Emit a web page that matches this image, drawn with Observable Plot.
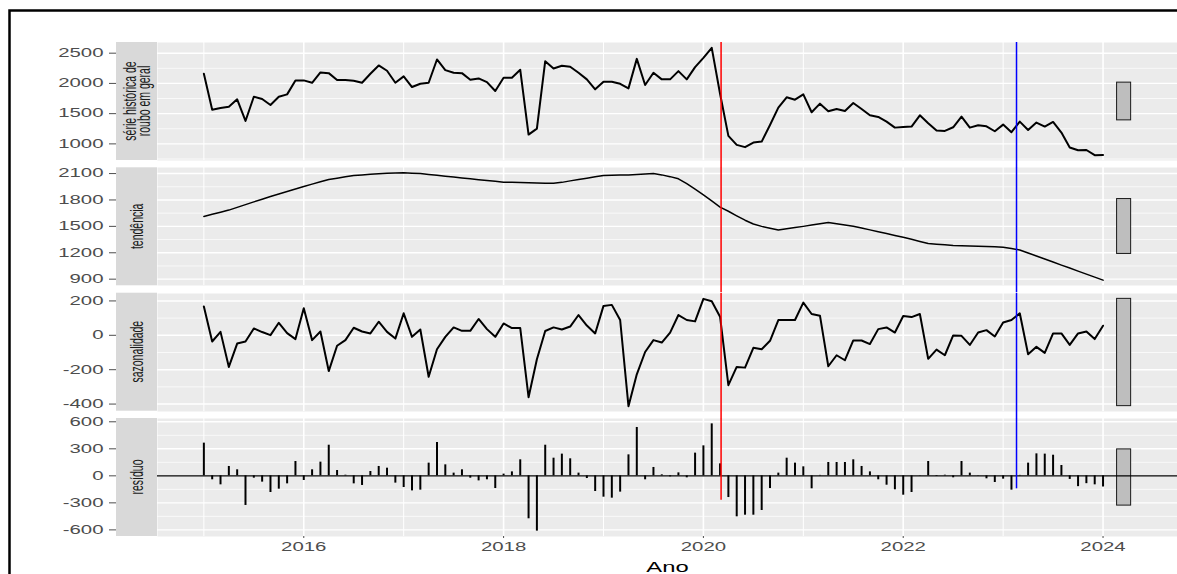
<!DOCTYPE html>
<html>
<head>
<meta charset="utf-8">
<script src="https://cdn.jsdelivr.net/npm/d3@7"></script>
<script src="https://cdn.jsdelivr.net/npm/@observablehq/plot@0.6"></script>
<style>
  body { margin: 0; background: #fff; }
  #chart { position: relative; width: 1177px; height: 574px; overflow: hidden; background: #fff;
           font-family: "Liberation Sans", Arial, sans-serif; }
  #chart svg { position: absolute; left: 0; overflow: visible; }
</style>
</head>
<body>
<div id="chart"></div>
<script>
// ---------------- data (monthly, Jan 2015 .. Jan 2024) ----------------
const startYear = 2015;
const observed = [
  2159, 1566, 1594, 1615, 1737, 1379, 1780, 1742, 1643, 1780, 1819, 2050,
  2050, 2011, 2182, 2170, 2055, 2055, 2044, 2011, 2159, 2297, 2209, 2011,
  2116, 1940, 1994, 2011, 2396, 2220, 2176, 2170, 2061, 2083, 2022, 1874,
  2094, 2094, 2225, 1154, 1253, 2368, 2248, 2291, 2275, 2176, 2067, 1902,
  2028, 2028, 1994, 1918, 2406, 1973, 2176, 2067, 2067, 2203, 2067, 2269,
  2423, 2588, 1830, 1132, 984, 946, 1022, 1038, 1313, 1599, 1770, 1731,
  1819, 1523, 1665, 1539, 1577, 1544, 1676, 1577, 1473, 1445, 1368, 1269,
  1280, 1286, 1473, 1341, 1220, 1214, 1275, 1450, 1269, 1308, 1291, 1209,
  1319, 1193, 1368, 1231, 1352, 1286, 1363, 1187, 940, 896, 899, 814,
  815
];
const trend = [
  1613, 1637, 1661, 1685, 1716, 1747, 1778, 1809, 1840, 1868, 1896, 1924,
  1952, 1980, 2006, 2032, 2048, 2063, 2077, 2085, 2092, 2098, 2103, 2106,
  2108, 2105, 2100, 2090, 2080, 2070, 2060, 2051, 2041, 2031, 2021, 2012,
  2002, 2000, 1998, 1996, 1993, 1991, 1990, 2000, 2017, 2033, 2048, 2063,
  2077, 2080, 2083, 2085, 2090, 2095, 2100, 2085, 2065, 2040, 1985, 1922,
  1858, 1790, 1719, 1672, 1620, 1570, 1527, 1500, 1478, 1458, 1472, 1486,
  1500, 1515, 1529, 1543, 1530, 1516, 1502, 1481, 1460, 1439, 1418, 1397,
  1377, 1353, 1329, 1305, 1298, 1290, 1283, 1280, 1278, 1275, 1271, 1268,
  1264, 1248, 1232, 1198, 1163, 1129, 1095, 1060, 1026, 991, 957, 923,
  889
];
const seasonal = [
  168, -36, 20, -184, -48, -36, 40, 19, 1, 73, 13, -22,
  157, -28, 22, -208, -61, -28, 44, 22, 11, 79, 20, -19,
  128, -9, 34, -241, -81, -9, 46, 26, 26, 95, 36, -9,
  69, 42, 42, -360, -139, 25, 46, 34, 51, 118, 57, 11,
  171, 177, 89, -412, -227, -97, -28, -42, 16, 118, 89, 81,
  212, 198, 108, -290, -184, -188, -73, -81, -32, 89, 89, 89,
  190, 124, 114, -180, -116, -145, -30, -30, -51, 36, 46, 16,
  112, 106, 124, -137, -83, -116, -1, -3, -56, 16, 30, -7,
  75, 89, 128, -110, -67, -102, 11, 11, -56, 11, 22, -22,
  56
];
const remainder = [
  363, -44, -100, 104, 67, -329, -26, -70, -185, -148, -89, 159,
  -52, 67, 152, 340, 59, 7, -89, -107, 48, 104, 85, -81,
  -130, -167, -159, 141, 370, 122, 30, 67, -26, -56, -44, -141,
  19, 44, 178, -477, -614, 340, 196, 241, 189, 30, -30, -174,
  -237, -248, -181, 233, 537, -44, 93, 11, -11, 33, -22, 252,
  333, 577, 133, -241, -455, -437, -437, -385, -141, 30, 196, 141,
  100, -144, 5, 148, 148, 148, 178, 104, 44, -44, -104, -155,
  -215, -185, 3, 159, -7, 7, -22, 159, 30, 3, -33, -74,
  -37, -159, 5, 141, 244, 241, 229, 115, -40, -120, -87, -100,
  -124
];

const panelLabels = [["série histórica de", "roubo em geral"], ["tendência"], ["sazonalidade"], ["resíduo"]];
const yTicks = [[1000, 1500, 2000, 2500], [900, 1200, 1500, 1800, 2100], [-400, -200, 0, 200], [-600, -300, 0, 300, 600]];
const yMinor = [[750, 1250, 1750, 2250], [1050, 1350, 1650, 1950], [-300, -100, 100], [-450, -150, 150, 450]];
const xTicks = [2016, 2018, 2020, 2022, 2024];
const xMinor = [2015, 2017, 2019, 2021, 2023];
const xLabel = "Ano";
const vlines = [{x: 2020.177, color: "red", end: -271}, {x: 2023.134, color: "blue", end: -144}];

// ---------------- layout ----------------
const W = 1177, panelLeft = 157, panelH = 118;
const tops = [42, 167.3, 292.7, 418];
const gap = tops[1] - tops[0] - panelH;
const stretch = 1.7;
const FONT = '"Liberation Sans", Arial, sans-serif';

const series = [observed, trend, seasonal, remainder];
const dates = observed.map((_, i) => startYear + i / 12);
const xExt = d3.extent(dates);
const xSpan = xExt[1] - xExt[0];
const xBar = [xExt[1] + xSpan / 64, xExt[1] + xSpan / 32];
const xFull = xBar[1] - xExt[0];
const xDomain = [xExt[0] - 0.05 * xFull, xBar[1] + 0.05 * xFull];
const barLen = d3.min(series, s => { const e = d3.extent(s); return e[1] - e[0]; });

function stretchText(svg) {
  svg.querySelectorAll("text").forEach(t => {
    const tr = t.getAttribute("transform") || "";
    if (tr.includes("rotate")) t.setAttribute("transform", tr.replace("rotate", `scale(${stretch},1) rotate`));
    else {
      const x = +(t.getAttribute("x") || 0);
      t.setAttribute("transform", `${tr} translate(${x},0) scale(${stretch},1) translate(${-x},0)`);
    }
  });
}

const chart = document.getElementById("chart");

series.forEach((values, k) => {
  const [lo, hi] = d3.extent(values);
  const R = hi - lo;
  const yDomain = [lo - 0.05 * R, hi + 0.05 * R];
  const mid = (lo + hi) / 2;
  const inDom = v => v >= yDomain[0] && v <= yDomain[1];
  const rows = values.map((v, i) => ({t: dates[i], v}));
  const last = k === 3;
  const marks = [
    Plot.frame({fill: "#EBEBEB", stroke: "none"}),
    Plot.ruleY(yMinor[k].filter(inDom), {stroke: "#fff", strokeWidth: 0.7}),
    Plot.ruleX(xMinor, {stroke: "#fff", strokeWidth: 1}),
    Plot.ruleY(yTicks[k], {stroke: "#fff", strokeWidth: 1.4}),
    Plot.ruleX(xTicks, {stroke: "#fff", strokeWidth: 1.6}),
    Plot.axisY({ticks: yTicks[k], tickSize: 48, tickPadding: 6, tickFormat: d => String(d),
                color: "#4D4D4D", fontSize: 12, label: null}),
    Plot.rect([{x1: xBar[0], x2: xBar[1], y1: mid - barLen / 2, y2: mid + barLen / 2}],
              {x1: "x1", x2: "x2", y1: "y1", y2: "y2", fill: "#BEBEBE", stroke: "#1a1a1a", strokeWidth: 1})
  ];
  if (!last) {
    marks.push(Plot.line(rows, {x: "t", y: "v", stroke: "black", strokeWidth: k === 1 ? 1.5 : 2}));
    marks.push(Plot.ruleX(vlines, {x: "x", stroke: "color", strokeWidth: 1.5, insetBottom: -gap}));
  } else {
    marks.push(Plot.ruleY([0], {stroke: "black", strokeWidth: 1.2}));
    marks.push(Plot.ruleX(rows, {x: "t", y1: 0, y2: "v", stroke: "black", strokeWidth: 2}));
    marks.push(Plot.ruleX(vlines, {x: "x", y1: yDomain[1], y2: "end", stroke: "color", strokeWidth: 1.5}));
    marks.push(Plot.axisX({ticks: xTicks, tickSize: 2, tickPadding: 4, tickFormat: d => String(d),
                           color: "#4D4D4D", fontSize: 12, label: null}));
    marks.push(Plot.text([xLabel], {text: d => d, frameAnchor: "bottom", dy: 35, lineAnchor: "bottom",
                                    fontSize: 14, fill: "black"}));
  }
  const svg = Plot.plot({
    width: W,
    height: panelH + (last ? 38 : 0),
    marginLeft: panelLeft, marginRight: 0, marginTop: 0, marginBottom: last ? 38 : 0,
    x: {domain: xDomain, ...(last ? {} : {axis: null})},
    y: {domain: yDomain},
    style: {background: "transparent", overflow: "visible", fontFamily: FONT},
    marks
  });
  svg.style.top = tops[k] + "px";
  stretchText(svg);
  chart.appendChild(svg);
});

// ---------------- strips and frame ----------------
const ov = d3.select(chart).append("svg")
  .attr("width", W).attr("height", 574).style("top", "0px");
ov.append("path").attr("d", "M9.5,574V10.5H1177").attr("fill", "none")
  .attr("stroke", "black").attr("stroke-width", 2.5);
panelLabels.forEach((lines, k) => {
  ov.append("rect").attr("x", 116).attr("y", tops[k]).attr("width", panelLeft - 116)
    .attr("height", panelH).attr("fill", "#D9D9D9");
  const cx0 = (116 + panelLeft) / 2, cy = tops[k] + panelH / 2;
  lines.forEach((txt, j) => {
    const cx = cx0 + (j - (lines.length - 1) / 2) * 14;
    ov.append("text").text(txt)
      .attr("transform", `translate(${cx},${cy}) scale(${stretch},1) rotate(-90)`)
      .attr("text-anchor", "middle").attr("dominant-baseline", "central")
      .attr("font-family", FONT).attr("font-size", 10.5).attr("fill", "#1A1A1A");
  });
});
</script>
</body>
</html>
